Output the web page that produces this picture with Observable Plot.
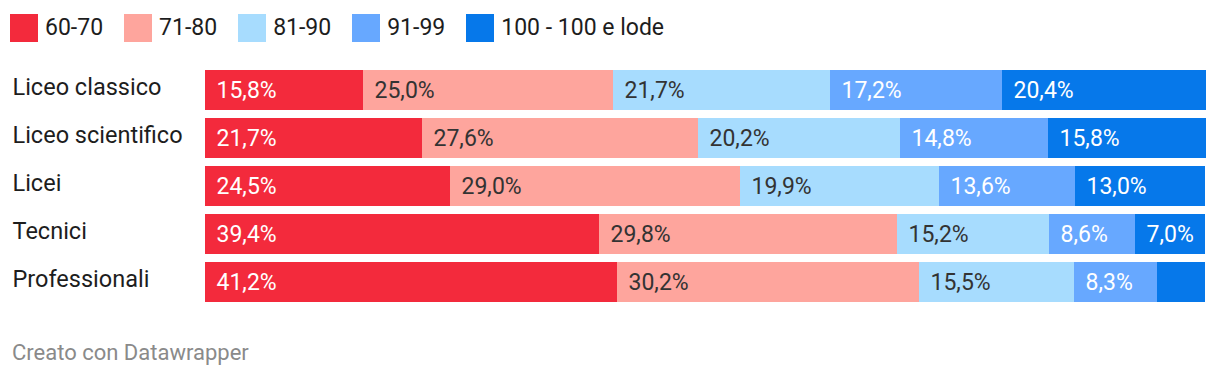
<!DOCTYPE html>
<html>
<head>
<meta charset="utf-8">
<script src="https://cdn.jsdelivr.net/npm/d3@7"></script>
<script src="https://cdn.jsdelivr.net/npm/@observablehq/plot@0.6"></script>
<style>
  html, body { margin: 0; padding: 0; background: #fff; }
  body { width: 1220px; height: 378px; position: relative; overflow: hidden; font-family: Roboto, sans-serif; }
  #legend { position: absolute; left: 10px; top: 14px; display: flex; gap: 21px; align-items: center; }
  .item { display: flex; align-items: center; gap: 7px; font-size: 23px; color: #1d1d1d; line-height: 28px; }
  .sw { width: 28px; height: 28px; display: inline-block; }
  #chart { position: absolute; left: 0; top: 60px; }
  #caption { position: absolute; left: 12px; top: 340px; font-size: 22px; color: #8a8a8a; }
</style>
</head>
<body>
<div id="legend"></div>
<div id="chart"></div>
<div id="caption">Creato con Datawrapper</div>
<script>
const categories = ["Liceo classico", "Liceo scientifico", "Licei", "Tecnici", "Professionali"];
const series = ["60-70", "71-80", "81-90", "91-99", "100 - 100 e lode"];
const colors = ["#f32a3c", "#fea59d", "#a7dcfe", "#67a8ff", "#0678ea"];
const darkText = ["71-80", "81-90"];
const v6070 = [15.8, 21.7, 24.5, 39.4, 41.2];
const v7180 = [25.0, 27.6, 29.0, 29.8, 30.2];
const v8190 = [21.7, 20.2, 19.9, 15.2, 15.5];
const v9199 = [17.2, 14.8, 13.6, 8.6, 8.3];
const v100 = [20.4, 15.8, 13.0, 7.0, 4.8];
const valuesBySeries = [v6070, v7180, v8190, v9199, v100];

const data = [];
categories.forEach((c, i) => {
  series.forEach((s, j) => data.push({cat: c, series: s, value: valuesBySeries[j][i]}));
});

const fmt = v => v.toFixed(1).replace(".", ",") + "%";
const showLabel = d => d.value >= 6;

// legend
const legend = document.getElementById("legend");
series.forEach((s, j) => {
  const it = document.createElement("div");
  it.className = "item";
  it.innerHTML = `<span class="sw" style="background:${colors[j]}"></span><span>${s}</span>`;
  legend.appendChild(it);
});

const chart = Plot.plot({
  width: 1220,
  height: 260,
  marginTop: 10,
  marginBottom: 18,
  marginLeft: 205,
  marginRight: 15,
  style: {fontFamily: "Roboto, sans-serif", background: "#fff"},
  x: {domain: [0, 100], axis: null},
  y: {domain: categories, paddingInner: 1/6, paddingOuter: 0, label: null},
  color: {domain: series, range: colors},
  marks: [
    Plot.barX(data, Plot.stackX({x: "value", y: "cat", fill: "series"})),
    Plot.text(data, Plot.stackX1({
      x: "value", y: "cat",
      text: d => (showLabel(d) && !darkText.includes(d.series)) ? fmt(d.value) : "",
      fill: "#ffffff", textAnchor: "start", dx: 11, fontSize: 23
    })),
    Plot.text(data, Plot.stackX1({
      x: "value", y: "cat",
      text: d => (showLabel(d) && darkText.includes(d.series)) ? fmt(d.value) : "",
      fill: "#333333", textAnchor: "start", dx: 11, fontSize: 23
    })),
    Plot.axisY({tickSize: 0, tickPadding: 0, textAnchor: "start", dx: -193, dy: -3, fontSize: 23.5, fill: "#1d1d1d", label: null})
  ]
});
document.getElementById("chart").appendChild(chart);
</script>
</body>
</html>
